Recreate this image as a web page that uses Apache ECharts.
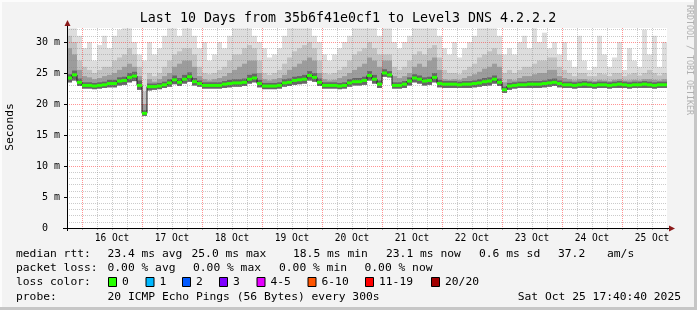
<!DOCTYPE html>
<html><head><meta charset="utf-8">
<script src="https://cdn.jsdelivr.net/npm/echarts@6/dist/echarts.min.js"></script>
<style>html,body{margin:0;padding:0;background:#f3f3f3}#c{width:697px;height:310px}</style>
</head><body><div id="c"></div><script>
// ---- data ----
const dayLabels = ['16 Oct','17 Oct','18 Oct','19 Oct','20 Oct','21 Oct','22 Oct','23 Oct','24 Oct','25 Oct'];
const dayLabelHours = [18,42,66,90,114,138,162,186,210,234];   // noon of each day, hours from start
const yTickValues = [0,5,10,15,20,25,30];
const binHours = 2;
const median = [24.2,24.7,23.5,23.0,23.0,22.9,23.0,23.1,23.3,23.3, 23.7,23.8,24.3,24.5,23.0,18.5,22.8,22.8,22.9,23.1,
 23.4,23.9,23.5,24.0,24.4,23.6,23.3,23.0,23.0,23.0, 23.0,23.2,23.3,23.4,23.4,23.5,24.0,24.2,23.3,22.9,
 22.9,22.9,23.0,23.4,23.5,23.8,23.9,24.0,24.6,24.3, 23.5,23.0,23.0,23.0,22.9,23.0,23.4,23.6,23.6,23.8,
 24.6,24.0,23.2,25.0,24.7,23.0,23.0,23.2,23.7,24.2, 24.0,23.7,23.8,24.3,23.3,23.2,23.2,23.2,23.1,23.2,
 23.2,23.3,23.4,23.6,23.7,24.0,23.5,22.3,22.9,23.0, 23.1,23.1,23.2,23.2,23.2,23.3,23.4,23.5,23.3,23.1,
 23.1,23.0,23.1,23.2,23.1,23.0,23.1,23.1,23.0,23.1, 23.2,23.1,23.0,23.1,23.1,23.2,23.1,23.0,23.1,23.1];
const smokeLo = [23.5,23.8,22.9,22.5,22.5,22.4,22.5,22.6,22.7,22.7, 23.0,23.1,23.5,23.7,22.3,18.1,22.2,22.3,22.4,22.6,
 22.8,23.2,22.9,23.3,23.6,23.0,22.8,22.5,22.5,22.5, 22.5,22.6,22.7,22.8,22.8,22.9,23.3,23.5,22.7,22.4,
 22.4,22.4,22.5,22.8,22.9,23.1,23.2,23.3,23.8,23.6, 22.9,22.5,22.5,22.5,22.4,22.5,22.8,23.0,23.0,23.1,
 23.8,23.3,22.6,24.4,24.3,22.5,22.5,22.6,23.0,23.5, 23.3,23.0,23.1,23.5,22.7,22.6,22.6,22.6,22.6,22.6,
 22.6,22.7,22.8,22.9,23.0,23.3,22.9,21.8,22.3,22.5, 22.6,22.6,22.6,22.6,22.6,22.7,22.8,22.9,22.7,22.6,
 22.6,22.5,22.6,22.6,22.6,22.5,22.6,22.6,22.5,22.6, 22.6,22.6,22.5,22.6,22.6,22.6,22.6,22.5,22.6,22.6];
const smokeQ1 = [24.8,25.4,24.1,23.5,23.5,23.4,23.5,23.6,23.9,23.9, 24.3,24.4,25.0,25.2,23.8,19.0,23.3,23.3,23.4,23.6,
 24.0,24.6,24.2,24.7,25.1,24.2,23.8,23.5,23.5,23.5, 23.5,23.7,23.9,24.0,24.0,24.1,24.7,24.9,23.9,23.4,
 23.4,23.4,23.5,24.0,24.1,24.4,24.5,24.7,25.3,25.0, 24.1,23.5,23.5,23.5,23.4,23.5,24.0,24.2,24.2,24.4,
 25.3,24.7,23.8,25.6,25.3,23.5,23.5,23.7,24.3,24.8, 24.6,24.3,24.4,25.0,23.9,23.7,23.7,23.7,23.6,23.7,
 23.7,23.8,24.0,24.2,24.3,24.6,24.1,22.8,23.4,23.5, 23.6,23.6,23.7,23.7,23.7,23.8,24.0,24.1,23.8,23.6,
 23.6,23.5,23.6,23.7,23.6,23.5,23.6,23.6,23.5,23.6, 23.7,23.6,23.5,23.6,23.6,23.7,23.6,23.5,23.6,23.6];
const smokeQ2 = [29,28,25.5,24.5,24.3,24,24.2,24.5,24.7,25, 25.5,26,26.5,26,24.5,20,24,23.6,24,24.5,
 25,26,26.5,27,27,26,24.5,24,23.8,24, 24.2,24.5,25,25.5,26,26.5,27,27,25,24,
 23.8,24,24.2,24.7,25.5,26,26.5,27,27.5,27, 25,24,23.8,23.9,24.2,24.5,25,25.5,26,26.5,
 27.5,27,26,27,27,24.5,24.2,24.5,25,26, 26.5,26,27,27.5,25.5,24,23.9,24,23.9,24.2,
 24.5,24.8,25.2,25.7,26,26.5,26,23.5,24,23.8, 24.2,24.5,24.5,24.8,25,25,25.5,25.5,24.5,24.2,
 24,23.8,24,24,23.8,23.7,23.9,23.8,23.7,23.9, 24,23.8,23.8,23.9,23.8,24,24,23.9,23.8,24];
const smokeQ3 = [31,30,27,26,25.5,25,25.5,26,26,27, 27.5,28,29,28,26,22,25,24.5,25,26,
 27,28,28.5,29,29,28,26,25,24.8,25, 25.5,26,27,28,28,29,29.5,29,27,25,
 24.7,25,25.5,26.5,27.5,28.5,29,29.5,30,29, 27,25,24.8,25,25.5,26,27,28,28.5,29,
 30,29,28,28,28,26,25.5,26,27,28, 28.5,28,29,29.5,27.5,25.5,25,25,24.8,25.5,
 26,26.5,27.5,28,28.5,29,28,25,25.5,25, 25.5,26,26,26.5,27,27,27.5,27.5,26,25.5,
 25,24.5,25,25,24.5,24.5,25,24.8,24.5,25, 25,24.5,24.8,25,24.6,25,25.5,25,24.6,25];
const smokeHi = [32.2,32.2,31,29,30,27,29.5,31,29,31, 32,32.2,32.2,30,28,27,30,28,29,31,
 32.2,32.2,31,32.2,32.2,31,29,30,27,28, 30,29,31,32.2,32.2,32.2,32.2,31,30,29,
 27.5,28,29,31,32.2,32.2,32.2,32.2,32.2,31, 30,28,27,28,29,30,31,32.2,32.2,32.2,
 32.2,32.2,31,32.2,32.2,30,29,30,31,32.2, 32.2,32.2,32.2,32.2,31,29,28,30,27.5,29,
 30,31,32.2,32.2,32.2,32.2,31,28,29,28, 30,31,29,32.2,30,31.5,29,30,28,30,
 27,26,31,27,25.5,26,31,28,26,27.5, 30,25.5,29,27,26,32,28,31,26,30];
const lossLabels = ['0','1','2','3','4-5','6-10','11-19','20/20'];
const lossColors = ['#26ff00','#00b8ff','#0059ff','#7e00ff','#e600ff','#ff5500','#ff0000','#a10000'];

// ---- chart ----
const FONT = '"DejaVu Sans Mono", monospace';
const G = {left:67, top:28, width:600, height:200};
const Y_MAX = 32.26, X_MAX = 240;
const chart = echarts.init(document.getElementById('c'), null, {renderer:'canvas'});

const smokeData = median.map((_, i) => [i*binHours, smokeLo[i], smokeQ1[i], smokeQ2[i], smokeQ3[i], smokeHi[i]]);
const medData = median.map((m, i) => [i*binHours, m]);
const stepData = median.map((m, i) => [i*binHours + binHours/2, m]);
const smokeColors = ['#dddddd','#c2c2c2','#9c9c9c','#666666'];

const GRAY = 'rgba(140,140,140,0.45)', RED = 'rgba(255,40,40,0.5)';
// x split lines every 6h starting at hour 6 (min line hidden): midnight every 4th line
const xLineColors = [RED, GRAY, GRAY, GRAY];
// y split lines every 1 ms starting at 1 ms: red every 10 ms
const yLineColors = [GRAY, GRAY, GRAY, GRAY, GRAY, GRAY, GRAY, GRAY, GRAY, RED];

function txt(x, y, s, align) {
  align = align || 'left';
  return {type:'text', x:x, y:y, silent:true,
    style:{text:s, fill:'#000', font:'11.3px ' + FONT, textAlign:align, textVerticalAlign:'middle', align:align, verticalAlign:'middle'}};
}
const graphics = [];
// frame
graphics.push({type:'rect', shape:{x:0,y:0,width:697,height:2}, style:{fill:'#fcfcfc'}, silent:true, z:-1});
graphics.push({type:'rect', shape:{x:0,y:0,width:2,height:310}, style:{fill:'#fcfcfc'}, silent:true, z:-1});
graphics.push({type:'rect', shape:{x:694,y:0,width:3,height:310}, style:{fill:'#c6c6c6'}, silent:true, z:-1});
graphics.push({type:'rect', shape:{x:0,y:307,width:697,height:3}, style:{fill:'#c6c6c6'}, silent:true, z:-1});
// title
graphics.push({type:'text', x:348, y:19, silent:true, style:{text:'Last 10 Days from 35b6f41e0cf1 to Level3 DNS 4.2.2.2', fill:'#000', font:'13.3px ' + FONT, textAlign:'center', textVerticalAlign:'middle', align:'center', verticalAlign:'middle'}});
// y title
graphics.push({type:'text', x:10.5, y:127, rotation:Math.PI/2, silent:true, style:{text:'Seconds', fill:'#000', font:'11.3px ' + FONT, textAlign:'center', textVerticalAlign:'middle', align:'center', verticalAlign:'middle'}});
// watermark
graphics.push({type:'text', x:689, y:60, rotation:-Math.PI/2, silent:true, style:{text:'RRDTOOL / TOBI OETIKER', fill:'#b0b0b0', font:'8.3px ' + FONT, textAlign:'center', textVerticalAlign:'middle', align:'center', verticalAlign:'middle'}});
// axes lines + arrows
graphics.push({type:'line', shape:{x1:67.5,y1:231,x2:67.5,y2:24}, style:{stroke:'#000', lineWidth:1}, silent:true, z:20});
graphics.push({type:'line', shape:{x1:63,y1:228.5,x2:670,y2:228.5}, style:{stroke:'#000', lineWidth:1}, silent:true, z:20});
graphics.push({type:'polygon', shape:{points:[[64.5,26],[70.5,26],[67.5,20]]}, style:{fill:'#8b1a1a'}, silent:true, z:20});
graphics.push({type:'polygon', shape:{points:[[669,225.5],[669,231.5],[675,228.5]]}, style:{fill:'#8b1a1a'}, silent:true, z:20});
// legend rows
const r1 = 254, r2 = 268.5, r3 = 282.5, r4 = 297;
graphics.push(txt(16, r1, 'median rtt:'));
graphics.push(txt(107.5, r1, '23.4 ms avg'));
graphics.push(txt(191.5, r1, '25.0 ms max'));
graphics.push(txt(293, r1, '18.5 ms min'));
graphics.push(txt(386, r1, '23.1 ms now'));
graphics.push(txt(479, r1, '0.6 ms sd'));
graphics.push(txt(558, r1, '37.2'));
graphics.push(txt(607, r1, 'am/s'));
graphics.push(txt(16, r2, 'packet loss:'));
graphics.push(txt(107.5, r2, '0.00 % avg'));
graphics.push(txt(193, r2, '0.00 % max'));
graphics.push(txt(279, r2, '0.00 % min'));
graphics.push(txt(364.5, r2, '0.00 % now'));
graphics.push(txt(16, r3, 'loss color:'));
const boxX = [108, 145.5, 182, 219, 256.5, 307.5, 365, 431];
lossLabels.forEach((l, i) => {
  graphics.push({type:'rect', shape:{x:boxX[i]+0.5, y:277.5, width:8, height:9}, style:{fill:lossColors[i], stroke:'#000', lineWidth:1}, silent:true});
  graphics.push(txt(boxX[i] + 14, r3, l));
});
graphics.push(txt(16, r4, 'probe:'));
graphics.push(txt(107.5, r4, '20 ICMP Echo Pings (56 Bytes) every 300s'));
graphics.push(txt(681, r4, 'Sat Oct 25 17:40:40 2025', 'right'));

const option = {
  animation: false,
  backgroundColor: '#f3f3f3',
  grid: {left:G.left, top:G.top, width:G.width, height:G.height, show:true, backgroundColor:'#ffffff', borderWidth:0, containLabel:false},
  xAxis: [{
    type:'value', min:0, max:X_MAX, interval:6, z:3,
    axisLine:{show:false},
    axisTick:{show:true, length:2, lineStyle:{color:'rgba(150,150,150,0.8)'}},
    axisLabel:{show:true, customValues:dayLabelHours, margin:5, color:'#000', fontFamily:'DejaVu Sans Mono', fontSize:9.6,
      formatter: v => { const k = dayLabelHours.indexOf(v); return k >= 0 ? dayLabels[k] : ''; }},
    splitLine:{show:true, showMinLine:false, showMaxLine:false, lineStyle:{color:xLineColors, width:1, type:[1,1]}}
  }],
  yAxis: [{
    type:'value', min:0, max:Y_MAX, interval:5, z:3,
    axisLine:{show:false},
    axisTick:{show:true, length:3, customValues:yTickValues, lineStyle:{color:'#000'}},
    axisLabel:{show:true, customValues:yTickValues, margin:7, color:'#000', fontFamily:'DejaVu Sans Mono', fontSize:10,
      formatter: v => v === 0 ? '0  ' : (v + ' m')},
    splitLine:{show:false}
  },{
    type:'value', min:0, max:Y_MAX, interval:1, z:3,
    axisLine:{show:false}, axisTick:{show:false}, axisLabel:{show:false},
    splitLine:{show:true, showMinLine:false, showMaxLine:false, lineStyle:{color:yLineColors, width:1, type:[1,1]}}
  }],
  series: [{
    type:'custom', name:'smoke', z:2, clip:true,
    xAxisIndex:0, yAxisIndex:0,
    data: smokeData,
    encode:{x:0, y:[1,5]},
    renderItem: (params, api) => {
      const x0 = api.value(0), x1 = x0 + binHours, lo = api.value(1);
      const tops = [api.value(5), api.value(4), api.value(3), api.value(2)];
      return {type:'group', children: tops.map((t, k) => {
        const a = api.coord([x0, t]), b = api.coord([x1, lo]);
        return {type:'rect', shape:{x:a[0], y:a[1], width:b[0]-a[0], height:b[1]-a[1]}, style:{fill:smokeColors[k]}};
      })};
    }
  },{
    type:'line', name:'median-step', z:9, xAxisIndex:0, yAxisIndex:0,
    data: stepData, step:'middle', symbol:'none',
    lineStyle:{color:'#1e1e1e', width:1}
  },{
    type:'custom', name:'median', z:10, clip:true, xAxisIndex:0, yAxisIndex:0,
    data: medData, encode:{x:0, y:1},
    renderItem: (params, api) => {
      const a = api.coord([api.value(0), api.value(1)]);
      const b = api.coord([api.value(0) + binHours, api.value(1)]);
      return {type:'rect', shape:{x:a[0], y:a[1]-1.5, width:b[0]-a[0], height:3}, style:{fill:lossColors[0]}};
    }
  }],
  graphic: graphics
};
chart.setOption(option);
</script></body></html>
